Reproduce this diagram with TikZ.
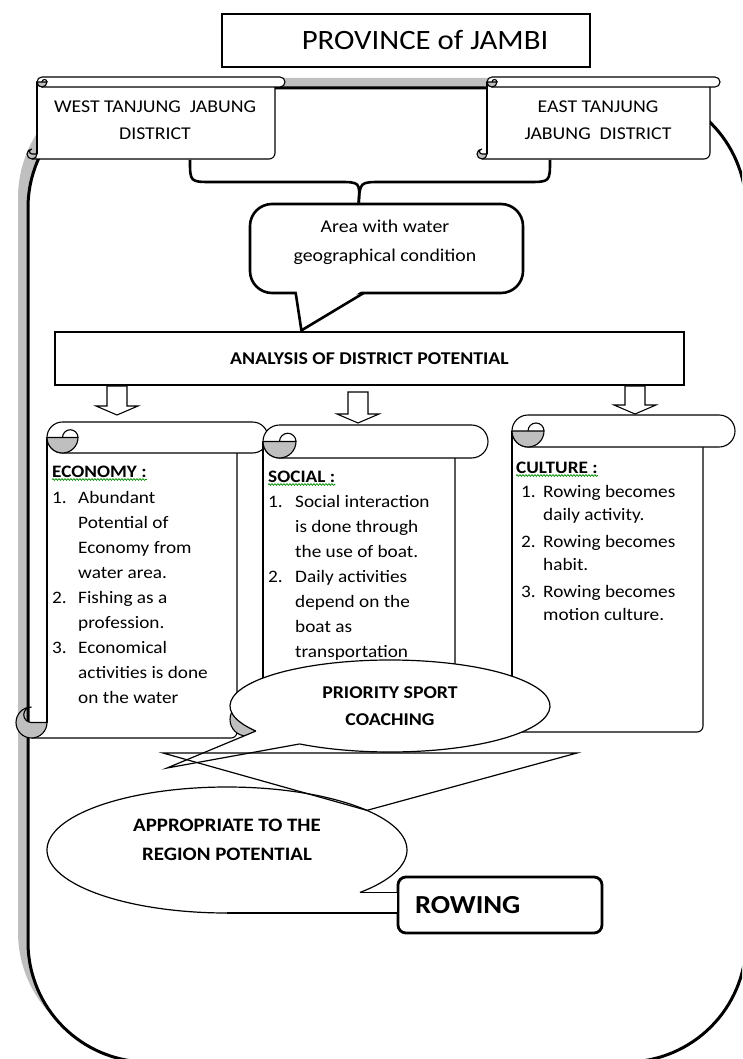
\documentclass[tikz,border=0pt]{standalone}
\usepackage{fontspec}
\setmainfont{Carlito}[FakeStretch=1.1]
\usepackage{tikz}
\usetikzlibrary{shapes.geometric,positioning,calc,decorations.pathmorphing}

\tikzset{
  scrollline/.style={draw=black, line width=1.1pt},
  thinline/.style={draw=black, line width=1.2pt},
  thickline/.style={draw=black, line width=2.6pt},
  provbox/.style={thinline, fill=white, minimum width=368pt, minimum height=53pt, inner sep=0pt, font=\fontsize{28}{32}\selectfont},
  disttext/.style={inner sep=0pt, align=center, font=\fontsize{18}{27}\selectfont},
  areabox/.style={thickline, fill=white, rounded corners=22pt, minimum width=273pt, minimum height=89pt},
  areatext/.style={inner sep=0pt, align=center, font=\fontsize{18}{29}\selectfont},
  analysisbox/.style={thinline, fill=white, minimum width=629pt, minimum height=53pt, inner sep=0pt, font=\bfseries\fontsize{18}{22}\selectfont},
  arrowline/.style={draw=black, line width=1.1pt, fill=white},
  heading/.style={inner sep=0pt, anchor=base west, font=\bfseries\fontsize{17.5}{25}\selectfont},
  listtext/.style={inner sep=0pt, anchor=base west, font=\fontsize{17.5}{25}\selectfont},
  squiggle/.style={draw=green!55!black, line width=0.7pt, decorate, decoration={snake, amplitude=0.9pt, segment length=3pt}},
  bubble/.style={ellipse, fill=white, inner sep=0pt},
  bubbletext/.style={inner sep=0pt, align=center, font=\bfseries\fontsize{18}{27}\selectfont},
  rowbox/.style={draw=black, line width=2.8pt, fill=white, rounded corners=8pt, minimum height=56pt, text width=170pt, inner xsep=17pt, align=left, font=\bfseries\fontsize{26}{30}\selectfont}
}

% horizontal scroll: x0, y0, x1, y1, roll size
\newcommand{\hscroll}[5]{%
  \fill[white] ({#1+#5},{#2+#5/2}) rectangle ({#3-#5},{#4});
  \draw[scrollline] ({#1+#5},{#2+#5/2}) -- ({#1+#5},{#4-#5/2});
  \draw[scrollline, rounded corners=6pt] ({#3-#5},{#2+#5}) -- ({#3-#5},{#4}) -- ({#1+#5/2},{#4});
  \filldraw[scrollline, fill=gray!50] ({#1+#5},{#4-#5/2}) arc[start angle=0, end angle=270, radius={#5/2}]
    arc[start angle=-90, end angle=-270, radius={#5/4}] -- cycle;
  \filldraw[scrollline, fill=white, rounded corners={#5*0.5pt}] ({#1+#5},{#2}) rectangle ({#3},{#2+#5});
  \filldraw[scrollline, fill=gray!50] ({#1+#5},{#2+#5/2}) arc[start angle=180, end angle=0, radius={#5/2}] -- cycle;
  \draw[scrollline] ({#1+2*#5},{#2+#5/2}) arc[start angle=0, end angle=-180, radius={#5/4}];
}

% hollow down arrow: centre x, top y, tip y
\newcommand{\blockdown}[3]{%
  \draw[arrowline] ({#1-10},{#2}) -- ({#1+10},{#2}) -- ({#1+10},{#3-9}) -- ({#1+21},{#3-9})
    -- ({#1},{#3}) -- ({#1-21},{#3-9}) -- ({#1-10},{#3-9}) -- cycle;
}

\begin{document}
\begin{tikzpicture}[x=1pt, y=-1pt]
    \useasboundingbox (0,0) rectangle (742,1059);
    \clip (0,0) rectangle (742,1059);

    % Frame with shadow
    \fill[gray!50, rounded corners=120pt] (18,78) rectangle (736,1052);
    \draw[line width=3pt, fill=white, rounded corners=120pt] (28,88) rectangle (746,1062);

    % Province
    \node[provbox] (province) at (406,40.5) {\hspace*{38pt}PROVINCE of JAMBI};

    % Districts
    \hscroll{27}{77}{285}{159}{10}
    \hscroll{477}{77}{720}{159}{10}
    \node[disttext] (westdist) at (155,120.5) {WEST TANJUNG\ \ JABUNG\\DISTRICT};
    \node[disttext] (eastdist) at (598,120.5) {EAST TANJUNG\\JABUNG\ \ DISTRICT};

    % Area callout and brace
    \node[areabox] (area) at (386.5,248.5) {};
    \node[areatext] (areatxt) at (385,242.5) {Area with water\\geographical condition};
    \coordinate (wfoot) at (190,160);
    \coordinate (efoot) at (550,160);
    \coordinate (bracetip) at ($(area.north west)+(110,0)$);
    \draw[thickline] (wfoot) .. controls (190,182) .. (212,182) -- (338,182) .. controls (360,182) .. (bracetip);
    \draw[thickline] (efoot) .. controls (550,182) .. (528,182) -- (382,182) .. controls (360,182) .. (bracetip);

    % Analysis
    \node[analysisbox] (analysis) at (369.5,358.5) {ANALYSIS OF DISTRICT POTENTIAL};
    \coordinate (areatip) at ($(analysis.north west)+(247,-1)$);
    \fill[white] ($(area.south west)+(48,-4)$) -- ($(area.south west)+(114,-4)$) -- (areatip) -- cycle;
    \draw[thickline, line join=round] ($(area.south west)+(47,-1.3)$) -- (areatip) -- ($(area.south west)+(115,-1.3)$);

    \blockdown{117}{386}{415}
    \blockdown{358}{392}{423}
    \blockdown{635}{386}{414}

    % Potential scrolls
    \hscroll{16}{422}{268}{738}{31}
    \hscroll{230}{425}{488}{736}{33}
    \hscroll{480}{415}{735}{732}{32}

    \node[heading] (econhead) at (52,477) {ECONOMY :};
    \node[listtext] (econlist) at (52,503) {\begin{tabular}[t]{@{}p{26pt}@{}l@{}}
        1. & Abundant\\ & Potential of\\ & Economy from\\ & water area.\\
        2. & Fishing as a\\ & profession.\\
        3. & Economical\\ & activities is done\\ & on the water
      \end{tabular}};

    \node[heading] (socialhead) at (268,482) {SOCIAL :};
    \node[listtext] (sociallist) at (268,507) {\begin{tabular}[t]{@{}p{27pt}@{}l@{}}
        1. & Social interaction\\ & is done through\\ & the use of boat.\\
        2. & Daily activities\\ & depend on the\\ & boat as\\ & transportation
      \end{tabular}};

    \node[heading] (culturehead) at (516,473) {CULTURE :};
    \node[listtext, font=\fontsize{17.5}{23}\selectfont] (culturelist) at (521,497) {\begin{tabular}[t]{@{}p{22pt}@{}l@{}}
        1. & Rowing becomes\\ & daily activity.\\[4pt]
        2. & Rowing becomes\\ & habit.\\[4pt]
        3. & Rowing becomes\\ & motion culture.
      \end{tabular}};

    \draw[squiggle] ([yshift=-2.5pt]econhead.base west) -- ([yshift=-2.5pt]econhead.base east);
    \draw[squiggle] ([yshift=-2.5pt]socialhead.base west) -- ([yshift=-2.5pt]socialhead.base east);
    \draw[squiggle] ([yshift=-2.5pt]culturehead.base west) -- ([yshift=-2.5pt]culturehead.base east);

    % Priority callout
    \node[bubble, bubbletext, minimum width=320pt, minimum height=92pt] (priority) at (390,706) {PRIORITY SPORT\\COACHING};
    \coordinate (pa) at ($(priority.center)+(147:160 and 46)$);
    \coordinate (pb) at ($(priority.center)+(124.4:160 and 46)$);
    \coordinate (ptip) at (167,768);
    \fill[white] (pa) -- (ptip) -- (pb) -- cycle;
    \draw[thinline] (pa) arc[start angle=147, end angle=484.4, x radius=160, y radius=46];
    \draw[thinline] (pa) -- (ptip) -- (pb);

    % Rowing and its callout
    \node[rowbox] (rowing) at (500,905) {ROWING};
    \node[bubble, minimum width=360pt, minimum height=126pt] (appropriate) at (227,850) {};
    \node[bubbletext, font=\bfseries\fontsize{19}{29}\selectfont] (approtxt) at (227,839.5) {APPROPRIATE TO THE\\REGION POTENTIAL};
    \coordinate (aup) at ($(appropriate.center)+(42.4:180 and 63)$);
    \coordinate (adown) at ($(appropriate.center)+(90:180 and 63)$);
    \coordinate (atop) at ($(appropriate.center)+(-39:180 and 63)$);
    \coordinate (tleft) at (163,753);
    \coordinate (tright) at (577,753);
    \fill[white] (adown) rectangle (rowing.west |- aup);
    \draw[thinline] (adown) arc[start angle=90, end angle=402.4, x radius=180, y radius=63];
    \draw[thinline] (aup) -- (rowing.west |- aup);
    \draw[thinline] (adown) -- (rowing.west |- adown);
    \draw[thinline] (tleft) -- (tright) -- (atop) -- cycle;
\end{tikzpicture}
\end{document}
